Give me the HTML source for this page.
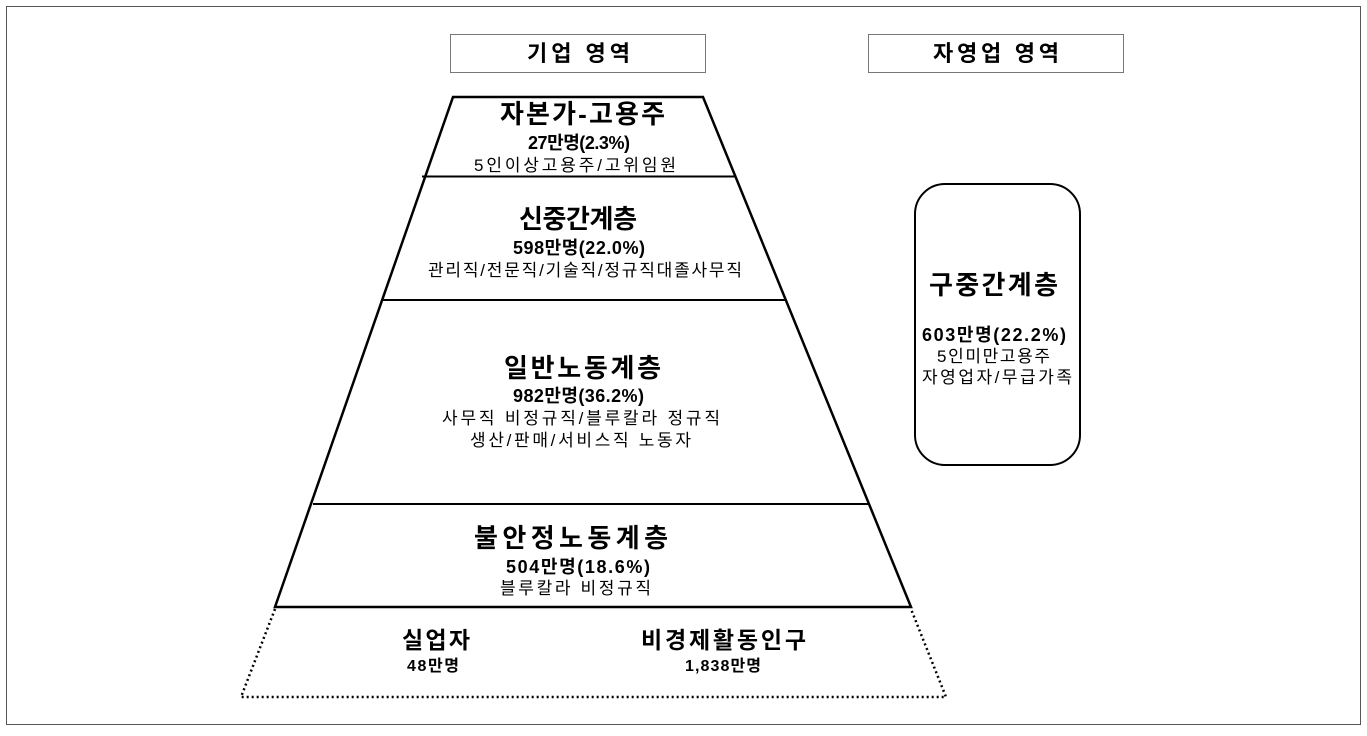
<!DOCTYPE html>
<html><head><meta charset="utf-8"><style>
body{margin:0;background:#fff}
text{font-family:"Liberation Sans","Noto Sans CJK KR",sans-serif;fill:#000}
.t{font-size:26px;font-weight:bold}
.n{font-size:18px;font-weight:bold}
.d{font-size:17px}
</style></head><body>
<svg width="1367" height="731" xmlns="http://www.w3.org/2000/svg">
<rect x="6.5" y="6.5" width="1354" height="718" fill="none" stroke="#555" stroke-width="1"/>
<rect x="450.5" y="34.5" width="255" height="38" fill="none" stroke="#777"/>
<text x="527" y="61" class="t" style="font-size:22px" textLength="103" lengthAdjust="spacing">기업 영역</text>
<rect x="868.5" y="34.5" width="255" height="38" fill="none" stroke="#777"/>
<text x="933" y="61" class="t" style="font-size:22px" textLength="126" lengthAdjust="spacing">자영업 영역</text>
<polygon points="453,97 703,97 911,607 275,607" fill="none" stroke="#000" stroke-width="2.5"/>
<line x1="422" y1="176.5" x2="736" y2="176.5" stroke="#000" stroke-width="2"/>
<line x1="383" y1="300" x2="785" y2="300" stroke="#000" stroke-width="2"/>
<line x1="313" y1="504" x2="868" y2="504" stroke="#000" stroke-width="2"/>
<polyline points="275,609 241,697 946,697 911,609" fill="none" stroke="#000" stroke-width="2.5" stroke-dasharray="2,3"/>
<text x="500" y="123" class="t" textLength="165" lengthAdjust="spacing">자본가-고용주</text>
<text x="528" y="149" class="n" textLength="102" lengthAdjust="spacing">27만명(2.3%)</text>
<text x="474" y="171" class="d" textLength="202" lengthAdjust="spacing">5인이상고용주/고위임원</text>
<text x="519" y="228" class="t" textLength="118" lengthAdjust="spacing">신중간계층</text>
<text x="513" y="254" class="n" textLength="132" lengthAdjust="spacing">598만명(22.0%)</text>
<text x="428" y="276" class="d" textLength="314" lengthAdjust="spacing">관리직/전문직/기술직/정규직대졸사무직</text>
<text x="504" y="377" class="t" textLength="157" lengthAdjust="spacing">일반노동계층</text>
<text x="513" y="402" class="n" textLength="131" lengthAdjust="spacing">982만명(36.2%)</text>
<text x="442" y="424" class="d" textLength="278" lengthAdjust="spacing">사무직 비정규직/블루칼라 정규직</text>
<text x="470" y="446" class="d" textLength="221" lengthAdjust="spacing">생산/판매/서비스직 노동자</text>
<text x="474" y="547" class="t" textLength="194" lengthAdjust="spacing">불안정노동계층</text>
<text x="506" y="573" class="n" textLength="144" lengthAdjust="spacing">504만명(18.6%)</text>
<text x="500" y="594" class="d" textLength="151" lengthAdjust="spacing">블루칼라 비정규직</text>
<text x="402" y="648" class="t" style="font-size:23px" textLength="68" lengthAdjust="spacing">실업자</text>
<text x="407" y="671" class="n" style="font-size:16px" textLength="52" lengthAdjust="spacing">48만명</text>
<text x="641" y="648" class="t" style="font-size:23px" textLength="165" lengthAdjust="spacing">비경제활동인구</text>
<text x="685" y="671" class="n" style="font-size:16px" textLength="76" lengthAdjust="spacing">1,838만명</text>
<rect x="915" y="184" width="165" height="281" rx="30" fill="none" stroke="#000" stroke-width="2"/>
<text x="929" y="294" class="t" textLength="129" lengthAdjust="spacing">구중간계층</text>
<text x="922" y="341" class="n" textLength="144" lengthAdjust="spacing">603만명(22.2%)</text>
<text x="937" y="362" class="d" textLength="113" lengthAdjust="spacing">5인미만고용주</text>
<text x="922" y="383" class="d" textLength="150" lengthAdjust="spacing">자영업자/무급가족</text>
</svg>
</body></html>
